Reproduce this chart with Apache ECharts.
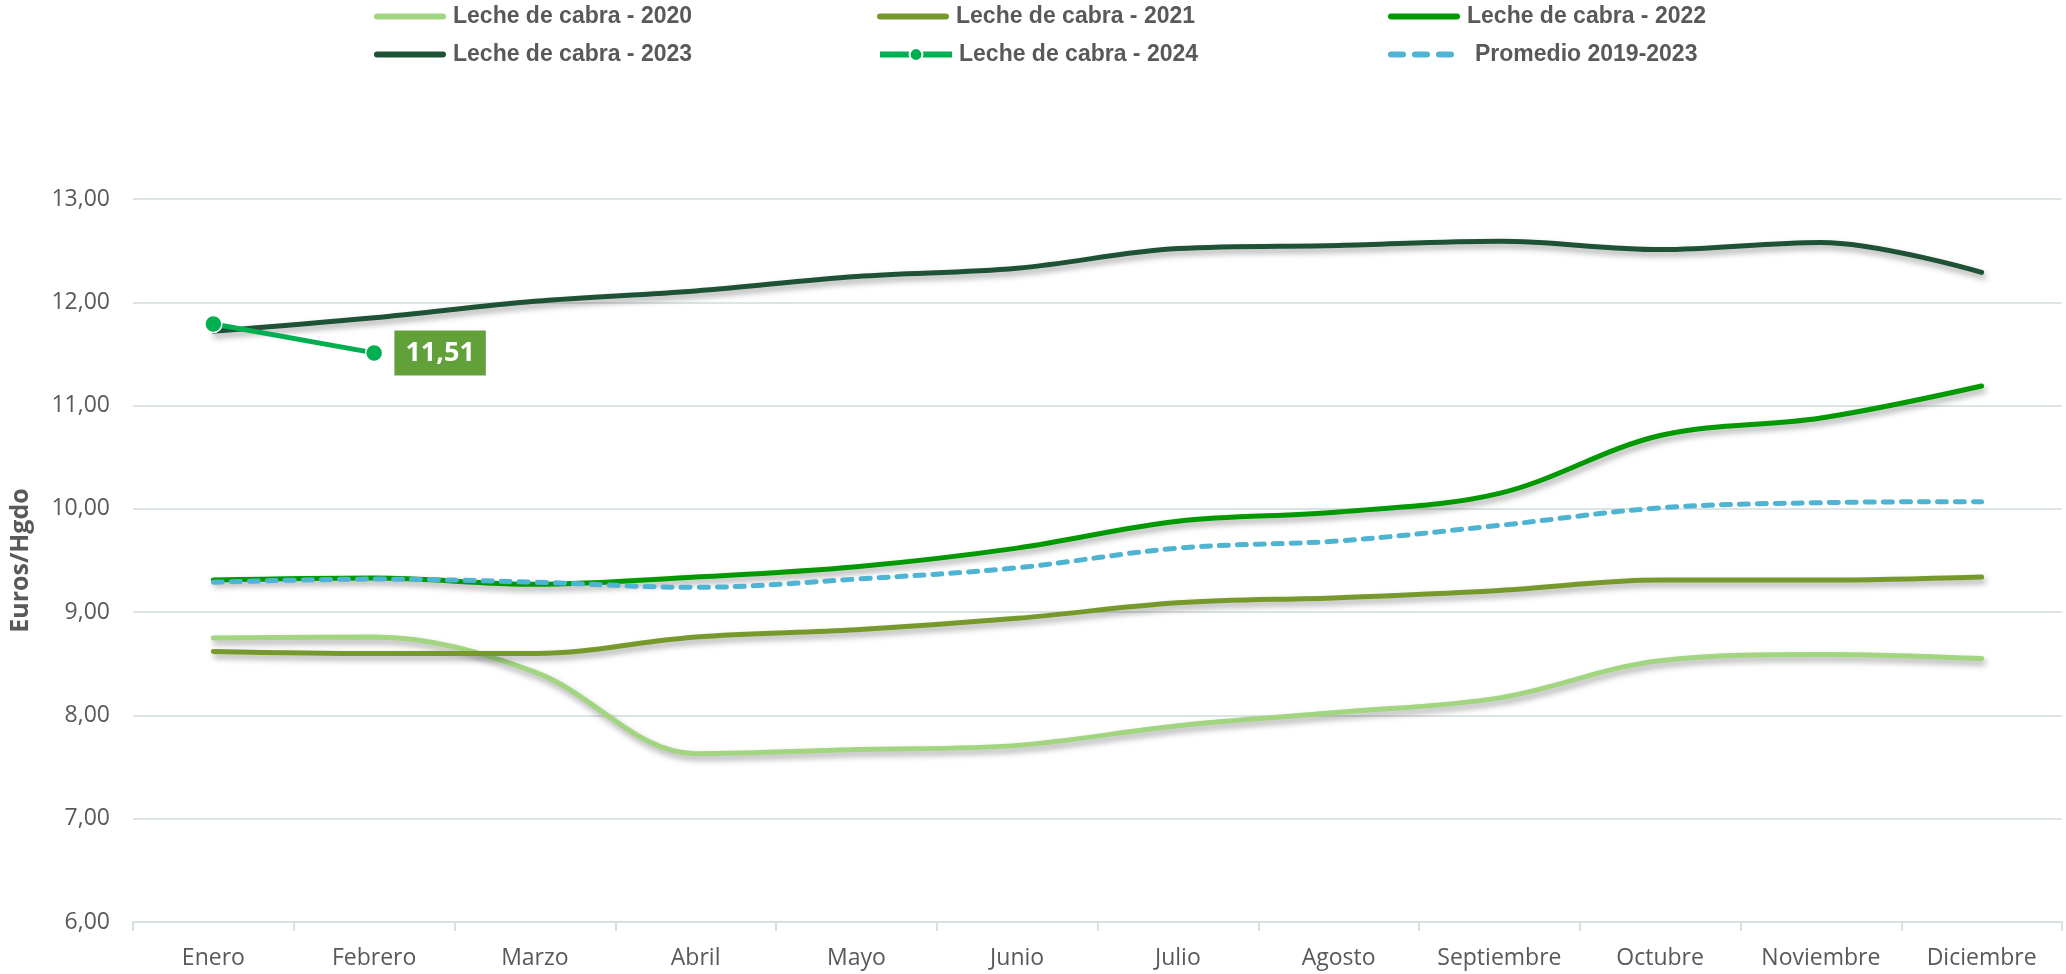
<!DOCTYPE html>
<html>
<head>
<meta charset="utf-8">
<script src="https://cdn.jsdelivr.net/npm/echarts@6/dist/echarts.min.js"></script>
<style>
  html, body { margin: 0; padding: 0; background: #fff; }
  #chart { width: 2066px; height: 974px; }
</style>
</head>
<body>
<div id="chart"></div>
<script>
// Meses
const meses = ["Enero", "Febrero", "Marzo", "Abril", "Mayo", "Junio", "Julio", "Agosto", "Septiembre", "Octubre", "Noviembre", "Diciembre"]

// Precios (Euros/Hgdo)
const leche2020 = [8.75, 8.76, 8.42, 7.63, 7.67, 7.71, 7.90, 8.03, 8.17, 8.53, 8.59, 8.55]
const leche2021 = [8.62, 8.60, 8.60, 8.76, 8.83, 8.94, 9.09, 9.14, 9.21, 9.31, 9.31, 9.34]
const leche2022 = [9.31, 9.33, 9.27, 9.34, 9.44, 9.62, 9.88, 9.97, 10.15, 10.71, 10.88, 11.19]
const leche2023 = [11.72, 11.85, 12.01, 12.11, 12.25, 12.33, 12.52, 12.55, 12.59, 12.51, 12.58, 12.29]
const leche2024 = [11.79, 11.51]
const promedio = [9.29, 9.32, 9.29, 9.24, 9.32, 9.43, 9.62, 9.69, 9.84, 10.01, 10.06, 10.07]

const nombres = ["Leche de cabra - 2020", "Leche de cabra - 2021", "Leche de cabra - 2022", "Leche de cabra - 2023", "Leche de cabra - 2024", "Promedio 2019-2023"]

const fmt = v => v.toFixed(2).replace(".", ",")

const sombra = {
  shadowColor: "rgba(0, 0, 0, 0.35)",
  shadowBlur: 6,
  shadowOffsetX: 2,
  shadowOffsetY: 4
}

const linea = (name, data, color) => ({
  name,
  type: "line",
  data,
  smooth: 0.35,
  symbol: "none",
  color,
  lineStyle: { width: 5, color, cap: "round", ...sombra }
})

// iconos de la leyenda
const iconoBarra = "path://M3,0H69A3,3,0,0,1,69,6H3A3,3,0,0,1,3,0Z"
const iconoPuntos = "path://M3,0H15A3,3,0,0,1,15,6H3A3,3,0,0,1,3,0ZM27,0H39A3,3,0,0,1,39,6H27A3,3,0,0,1,27,0ZM51,0H63A3,3,0,0,1,63,6H51A3,3,0,0,1,51,0Z"

// leyenda en 2 filas x 3 columnas
const colsX = [369, 872, 1383]
const filasY = [0, 38]
const leyendas = nombres.map((n, i) => {
  const lg = {
    data: [n],
    left: colsX[i % 3],
    top: filasY[Math.floor(i / 3)],
    itemWidth: 72,
    itemHeight: 7,
    icon: iconoBarra,
    textStyle: {
      fontFamily: "Liberation Sans Narrow, Liberation Sans, sans-serif",
      fontWeight: "bold",
      fontSize: 23,
      color: "#595959",
      padding: [0, 0, 0, 2]
    }
  }
  if (i === 4) {
    delete lg.icon
    lg.itemHeight = 16
    lg.lineStyle = { width: 6 }
  }
  if (i === 5) {
    lg.icon = iconoPuntos
    lg.itemWidth = 66
    lg.textStyle = { ...lg.textStyle, padding: [0, 0, 0, 16] }
  }
  return lg
})

const chart = echarts.init(document.getElementById("chart"))
chart.setOption({
  animation: false,
  legend: leyendas,
  grid: { left: 132, right: 4, top: 199, bottom: 52 },
  xAxis: {
    type: "category",
    data: meses,
    boundaryGap: true,
    axisLine: { lineStyle: { color: "#D9E0E0", width: 2 } },
    axisTick: { show: true, interval: 0, length: 9, lineStyle: { color: "#D9E0E0", width: 2 } },
    axisLabel: { interval: 0, color: "#595959", fontSize: 23, fontFamily: "Open Sans", margin: 25 }
  },
  yAxis: {
    type: "value",
    min: 6,
    max: 13,
    interval: 1,
    name: "Euros/Hgdo",
    nameLocation: "middle",
    nameGap: 100,
    nameTextStyle: { color: "#595959", fontSize: 25, fontWeight: "bold", fontFamily: "Open Sans" },
    axisLine: { show: false },
    axisTick: { show: false },
    splitLine: { lineStyle: { color: "#DDE5E4", width: 2 } },
    axisLabel: { color: "#595959", fontSize: 23, fontFamily: "Open Sans", margin: 23, formatter: v => fmt(v) }
  },
  series: [
    linea(nombres[0], leche2020, "#A1D57F"),
    linea(nombres[1], leche2021, "#77992C"),
    linea(nombres[2], leche2022, "#009A00"),
    linea(nombres[3], leche2023, "#1D5235"),
    {
      name: nombres[4],
      type: "line",
      data: leche2024.map((v, i) => i === leche2024.length - 1
        ? {
            value: v,
            label: {
              show: true,
              position: "right",
              distance: 11,
              formatter: p => fmt(p.value),
              color: "#fff",
              fontSize: 27,
              fontWeight: "bold",
              fontFamily: "Open Sans",
              backgroundColor: "#62A03A",
              padding: [10, 11, 8, 11]
            }
          }
        : v),
      symbol: "circle",
      symbolSize: 17,
      color: "#00B050",
      itemStyle: { color: "#00B050", borderColor: "#fff", borderWidth: 1.5 },
      lineStyle: { width: 5, color: "#00B050" }
    },
    {
      name: nombres[5],
      type: "line",
      data: promedio,
      smooth: 0.35,
      symbol: "none",
      color: "#4FB3D2",
      lineStyle: { width: 5, color: "#4FB3D2", type: [9, 9], cap: "round" }
    }
  ]
})
</script>
</body>
</html>
